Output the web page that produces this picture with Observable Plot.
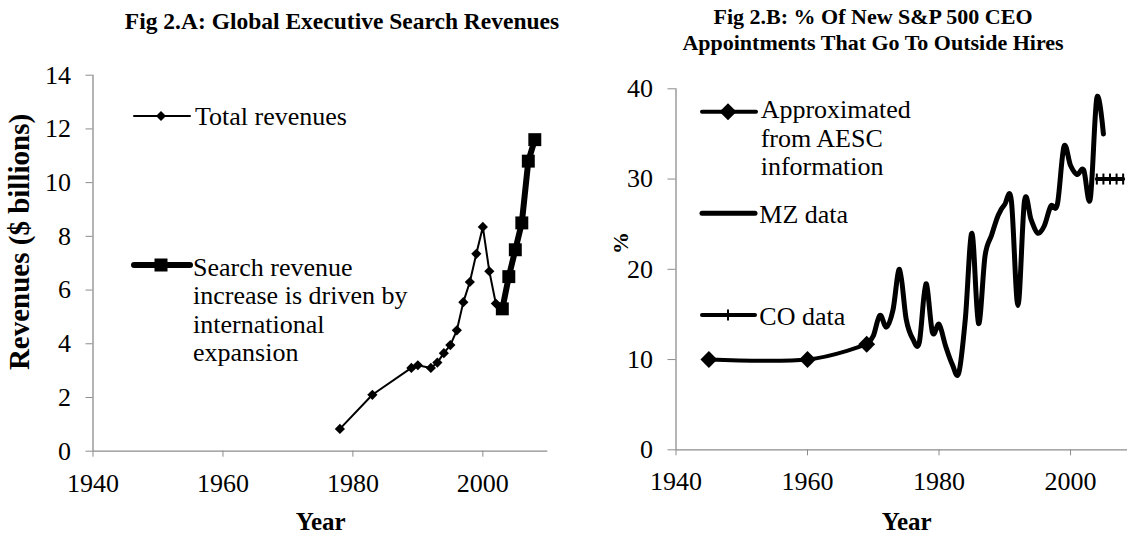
<!DOCTYPE html>
<html><head><meta charset="utf-8">
<script src="https://cdn.jsdelivr.net/npm/d3@7"></script>
<script src="https://cdn.jsdelivr.net/npm/@observablehq/plot@0.6"></script>
<style>
html,body{margin:0;padding:0;background:#fff;overflow:hidden;}
#wrap{position:relative;width:1127px;height:535px;overflow:hidden;background:#fff;font-family:'Liberation Serif',serif;color:#000;}
#wrap > svg{position:absolute;top:0;}
#wrap svg, #wrap svg text{font-family:'Liberation Serif',serif !important;}
</style></head><body><div id="wrap"></div>
<script>
// ---- Fig 2.A data ----
const totalYears  = [1978,1983,1989,1990,1992,1993,1994,1995,1996,1997,1998,1999,2000,2001,2002,2003];
const totalValues = [0.83,2.1,3.1,3.2,3.1,3.3,3.65,3.95,4.5,5.55,6.3,7.35,8.35,6.7,5.5,5.3];
const searchYears  = [2003,2004,2005,2006,2007,2008];
const searchValues = [5.3,6.5,7.5,8.5,10.8,11.6];
const leftYTicks = [0,2,4,6,8,10,12,14];
const xTicks = [1940,1960,1980,2000];

// ---- Fig 2.B data ----
const approxYears  = [1945,1960,1969];
const approxValues = [10,10,11.7];
const mzYears  = [1969,1970,1971,1972,1973,1974,1975,1976,1977,1978,1979,1980,1981,1982,1983,1984,1985,1986,1987,1988,1989,1990,1991,1992,1993,1994,1995,1996,1997,1998,1999,2000,2001,2002,2003,2004,2005];
const mzValues = [11.7,12.6,14.9,13.6,15.5,20.0,14.5,12.3,11.9,18.4,13.0,13.9,11.5,9.5,8.5,14.5,24.0,14.0,21.5,23.8,26.0,27.2,27.6,16.0,27.6,25.5,24.0,24.8,27.0,27.2,33.6,31.5,30.5,31.0,27.8,39.0,35.0];
const coYears  = [2004,2005,2006,2007,2008];
const coValues = [30,30,30,30,30];
const rightYTicks = [0,10,20,30,40];

const zip = (xs, ys) => xs.map((x, i) => ({year: x, value: ys[i]}));
const total = zip(totalYears, totalValues);
const search = zip(searchYears, searchValues);
const approx = zip(approxYears, approxValues);
const mz = zip(mzYears, mzValues);
const co = zip(coYears, coValues);

const FONT = "'Liberation Serif', serif";
const AX = "#8c8c8c";
const vtick = {draw(ctx, size){ const h = Math.sqrt(size / Math.PI); ctx.moveTo(0, -h); ctx.lineTo(0, h); }};

const left = Plot.plot({
  width: 570, height: 535,
  marginLeft: 92.5, marginRight: 22.7, marginTop: 74.7, marginBottom: 84.3,
  style: {fontFamily: FONT, fontSize: "26px", color: "#000", background: "transparent", overflow: "visible"},
  x: {domain: [1940, 2010]},
  y: {domain: [0, 14]},
  marks: [
    Plot.axisY({ticks: leftYTicks, tickSize: 7, tickPadding: 15, stroke: AX, fill: "#000", label: null, fontFamily: FONT}),
    Plot.axisX({ticks: xTicks, tickSize: 6, tickPadding: 16, stroke: AX, fill: "#000", label: null, fontFamily: FONT, tickFormat: d => String(d)}),
    Plot.ruleY([0], {stroke: AX, strokeWidth: 1.3}),
    Plot.ruleX([1940], {stroke: AX, strokeWidth: 1.3}),
    Plot.line(total, {x: "year", y: "value", stroke: "#000", strokeWidth: 2}),
    Plot.dot(total, {x: "year", y: "value", symbol: "diamond2", r: 4.6, fill: "#000", stroke: "none"}),
    Plot.line(search, {x: "year", y: "value", stroke: "#000", strokeWidth: 6}),
    Plot.dot(search, {x: "year", y: "value", symbol: "square", r: 7.3, fill: "#000", stroke: "none"})
  ]
});
left.style.left = "0px";

const right = Plot.plot({
  width: 580, height: 535,
  marginLeft: 95.5, marginRight: 24.2, marginTop: 88.3, marginBottom: 85.7,
  style: {fontFamily: FONT, fontSize: "26px", color: "#000", background: "transparent", overflow: "visible"},
  x: {domain: [1940, 2010]},
  y: {domain: [0, 40]},
  marks: [
    Plot.axisY({ticks: rightYTicks, tickSize: 8, tickPadding: 15, stroke: AX, fill: "#000", label: null, fontFamily: FONT}),
    Plot.axisX({ticks: xTicks, tickSize: 6, tickPadding: 16, stroke: AX, fill: "#000", label: null, fontFamily: FONT, tickFormat: d => String(d)}),
    Plot.ruleY([0], {stroke: AX, strokeWidth: 1.3}),
    Plot.ruleX([1940], {stroke: AX, strokeWidth: 1.3}),
    Plot.line(approx, {x: "year", y: "value", stroke: "#000", strokeWidth: 4, curve: "cardinal"}),
    Plot.dot(approx, {x: "year", y: "value", symbol: "diamond2", r: 7.6, fill: "#000", stroke: "none"}),
    Plot.line(mz, {x: "year", y: "value", stroke: "#000", strokeWidth: 5, curve: "cardinal"}),
    Plot.line(co, {x: "year", y: "value", stroke: "#000", strokeWidth: 4}),
    Plot.dot(co, {x: "year", y: "value", symbol: vtick, r: 5.5, fill: "none", stroke: "#000", strokeWidth: 2})
  ]
});
right.style.left = "580px";

const wrap = document.getElementById("wrap");
wrap.appendChild(left);
wrap.appendChild(right);

// ---- overlay: titles, axis titles, legends ----
const ov = d3.select(wrap).append("svg")
  .attr("width", 1127).attr("height", 535)
  .attr("font-family", "Liberation Serif")
  .style("position", "absolute").style("left", "0px").style("top", "0px")
  .style("pointer-events", "none");

function txt(x, y, s, size, bold, anchor, rot) {
  const t = ov.append("text").attr("font-size", size + "px")
    .attr("font-family", "Liberation Serif")
    .attr("text-anchor", anchor || "start").attr("fill", "#000").text(s);
  if (bold) t.attr("font-weight", "bold");
  if (rot) t.attr("transform", `translate(${x},${y}) rotate(${rot})`);
  else t.attr("x", x).attr("y", y);
}

// titles
txt(342, 29.3, "Fig 2.A: Global Executive Search Revenues", 23.5, true, "middle");
txt(873, 24, "Fig 2.B: % Of New S&P 500 CEO", 22, true, "middle");
txt(873, 50, "Appointments That Go To Outside Hires", 22, true, "middle");

// axis titles
txt(29, 242, "Revenues ($ billions)", 29, true, "middle", -90);
txt(320.7, 529.5, "Year", 25, true, "middle");
txt(628, 243, "%", 22, true, "middle", -90);
txt(906.7, 529.5, "Year", 25, true, "middle");

function seg(x1, y, x2, w) {
  ov.append("line").attr("x1", x1).attr("x2", x2).attr("y1", y).attr("y2", y)
    .attr("stroke", "#000").attr("stroke-width", w).attr("stroke-linecap", "round");
}
function diamond(cx, cy, h) {
  ov.append("path").attr("d", `M${cx},${cy-h}L${cx+h},${cy}L${cx},${cy+h}L${cx-h},${cy}Z`).attr("fill", "#000");
}

// left legend
seg(134, 116, 190, 2); diamond(161, 116, 5);
txt(195, 125, "Total revenues", 26, false);
seg(134, 265, 190, 6);
ov.append("rect").attr("x", 161 - 6.5).attr("y", 265 - 6.5).attr("width", 13).attr("height", 13).attr("fill", "#000");
["Search revenue", "increase is driven by", "international", "expansion"].forEach((s, i) => txt(193, 275.5 + i * 28.5, s, 26, false));

// right legend
seg(702, 111.7, 756, 4); diamond(728, 111.7, 8.5);
["Approximated", "from AESC", "information"].forEach((s, i) => txt(760.7, 118.3 + i * 28.4, s, 26, false));
seg(702, 213.3, 755, 5);
txt(759.3, 222.7, "MZ data", 26, false);
seg(702, 315, 755, 4);
ov.append("line").attr("x1", 728).attr("x2", 728).attr("y1", 309.5).attr("y2", 320.5).attr("stroke", "#000").attr("stroke-width", 2);
txt(759.3, 325, "CO data", 26, false);
</script>
</body></html>
